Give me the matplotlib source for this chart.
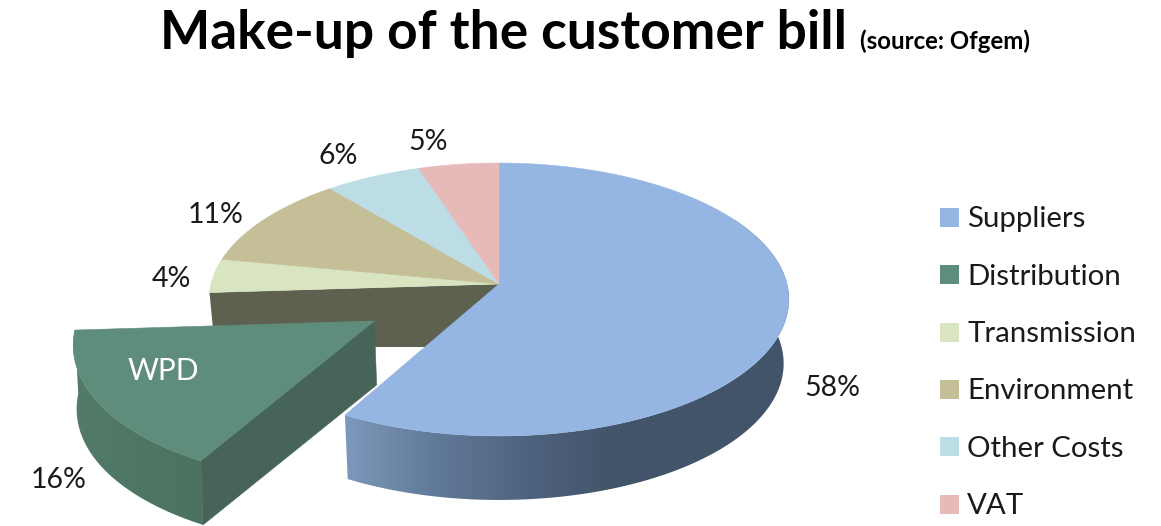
"""Make-up of the customer bill, drawn as a tilted 3D pie with one slice pulled out."""

import numpy as np
import matplotlib
matplotlib.use("Agg")
import matplotlib.pyplot as plt
from matplotlib.colors import LinearSegmentedColormap
from matplotlib.patches import Polygon, Rectangle

categories = ["Suppliers", "Distribution", "Transmission", "Environment", "Other Costs", "VAT"]
shares = [58, 16, 4, 11, 6, 5]
colors = ["#95B6E2", "#5F8D7B", "#D9E5C1", "#C5BF98", "#BCDDE6", "#E6BAB9"]
label_pos = [(832, 388), (59, 480), (171, 279), (216, 215), (338, 156), (428, 142)]

# pie layout in pixels
CX, CY = 499, 284
RX, RY = 288, 134.7
TILT = 0.1136
DEPTH = 64
BASE_SCALE = 0.982
EXPLODE = 0.497

plt.rcParams["font.family"] = ["Lato", "DejaVu Sans"]


def project(theta, explode=0.0, mid=0.0):
    """Map clockwise-from-top angles on the disc to screen pixels."""
    u = np.sin(theta) + explode * np.sin(mid)
    v = np.cos(theta) + explode * np.cos(mid)
    w = 1 + TILT * v
    return CX + RX * u / w, CY - RY * v / w


def project_apex(explode, mid):
    u = explode * np.sin(mid)
    v = explode * np.cos(mid)
    w = 1 + TILT * v
    return CX + RX * u / w, CY - RY * v / w


def base(x, y, scale=BASE_SCALE):
    return CX + (x - CX) * scale, y + DEPTH


def top_face(a0, a1, explode=0.0, mid=0.0):
    theta = np.linspace(a0, a1, 120)
    x, y = project(theta, explode, mid)
    apex_x, apex_y = project_apex(explode, mid)
    return np.vstack([[apex_x, apex_y], np.column_stack([x, y])])


def outer_wall(a0, a1, explode=0.0, mid=0.0, scale=BASE_SCALE):
    theta = np.linspace(a0, a1, 120)
    x, y = project(theta, explode, mid)
    bx, by = base(x, y, scale)
    return np.vstack([np.column_stack([x, y]), np.column_stack([bx, by])[::-1]])


def gradient_fill(ax, poly, stops, zorder):
    cmap = LinearSegmentedColormap.from_list("wall", stops)
    x0, x1 = poly[:, 0].min(), poly[:, 0].max()
    y0, y1 = poly[:, 1].min(), poly[:, 1].max()
    im = ax.imshow(np.linspace(0, 1, 256)[None, :], cmap=cmap, aspect="auto",
                   extent=(x0, x1, y1, y0), zorder=zorder)
    clip = Polygon(poly, closed=True, transform=ax.transData, fc="none", ec="none")
    ax.add_patch(clip)
    im.set_clip_path(clip)


fig = plt.figure(figsize=(11.61, 5.26), dpi=100)
ax = fig.add_axes([0, 0, 1, 1])

edges = np.radians(np.cumsum([0] + shares) * 3.6)
mid = (edges[1] + edges[2]) / 2

# cut face left behind by the pulled-out slice
cx1, cy1 = project(edges[2])
bx1, _ = base(cx1, cy1)
ax.add_patch(Polygon([(CX, CY), (cx1, cy1), (bx1, CY + DEPTH - 1), (CX, CY + DEPTH - 1)],
                     fc="#5F6150", ec="none", zorder=1))

# suppliers wall and the flat tops of the slices that stay in place
gradient_fill(ax, outer_wall(np.radians(60), edges[1]),
              ["#7D98BB", "#627A99", "#4F6480", "#425469", "#425469", "#425469"], 2)
for i in [0, 2, 3, 4, 5]:
    ax.add_patch(Polygon(top_face(edges[i], edges[i + 1]), fc=colors[i], ec=colors[i],
                         lw=0.4, zorder=3))

# pulled-out distribution slice
wall = outer_wall(edges[1], edges[2], EXPLODE, mid, scale=0.992)
gradient_fill(ax, wall, ["#527B69", "#4C7161"], 4)
ax2, ay2 = project_apex(EXPLODE, mid)
px2, py2 = project(edges[1], EXPLODE, mid)
ax.add_patch(Polygon([(ax2, ay2), (px2, py2), base(px2, py2, 0.992), base(ax2, ay2)],
                     fc="#466558", ec="#466558", lw=0.4, zorder=5))
ax.add_patch(Polygon(top_face(edges[1], edges[2], EXPLODE, mid), fc=colors[1], ec=colors[1],
                     lw=0.4, zorder=6))
ax.text(163, 371, "WPD", color="white", fontsize=21.5, ha="center", va="center", zorder=7)

for share, (lx, ly) in zip(shares, label_pos):
    ax.text(lx, ly, f"{share}%", color="#1a1a1a", fontsize=20.5, ha="center", va="center")

# legend
for i, (name, color) in enumerate(zip(categories, colors)):
    ly = 217.5 + 57.3 * i
    ax.add_patch(Rectangle((940, ly - 9.5), 19, 19, fc=color, ec="none"))
    ax.text(967, ly + 2, name, color="#1a1a1a", fontsize=21.2, ha="left", va="center")

# title
ax.text(160, 34, "Make-up of the customer bill", color="black", fontsize=38.3,
        fontweight="bold", ha="left", va="center")
ax.text(860, 41, "(source: Ofgem)", color="black", fontsize=17.3,
        fontweight="bold", ha="left", va="center")

ax.set_xlim(0, 1161)
ax.set_ylim(526, 0)
ax.axis("off")

fig.savefig("out.png", dpi=100, facecolor="white")
plt.close(fig)
